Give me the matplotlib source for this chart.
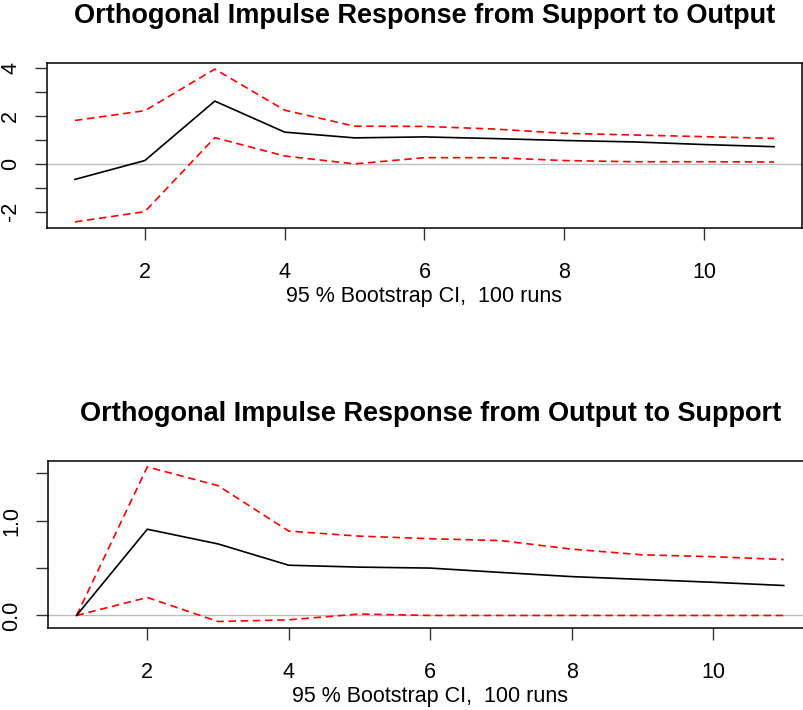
import numpy as np
import matplotlib.pyplot as plt

plt.rcParams['font.family'] = ['Liberation Sans', 'DejaVu Sans']

# horizonte del impulso
pasos = np.arange(1, 12)

# Respuesta de Support a Output
irf_so = [-0.65, 0.14, 2.63, 1.33, 1.09, 1.13, 1.06, 0.98, 0.92, 0.81, 0.72]
sup_so = [1.82, 2.23, 3.97, 2.25, 1.58, 1.57, 1.46, 1.28, 1.21, 1.14, 1.07]
inf_so = [-2.43, -2.0, 1.10, 0.33, 0.0, 0.26, 0.26, 0.14, 0.09, 0.09, 0.08]

# Respuesta de Output a Support
irf_os = [0.0, 0.91, 0.755, 0.53, 0.51, 0.50, 0.454, 0.41, 0.38, 0.35, 0.316]
sup_os = [0.0, 1.568, 1.37, 0.89, 0.837, 0.81, 0.79, 0.70, 0.64, 0.62, 0.59]
inf_os = [0.0, 0.19, -0.064, -0.046, 0.015, 0.0, 0.0, 0.0, 0.0, 0.0, 0.0]

titulos = ['Orthogonal Impulse Response from Support to Output',
           'Orthogonal Impulse Response from Output to Support']
etiqueta_x = '95 % Bootstrap CI,  100 runs'

fig = plt.figure(figsize=(8.04, 7.10), dpi=100)
ax1 = fig.add_axes([0.05846, 0.67887, 0.93905, 0.23239])
ax2 = fig.add_axes([0.06007, 0.11592, 0.94988, 0.23521])

paneles = [
    (ax1, irf_so, sup_so, inf_so, np.arange(-2, 5, 1), ['-2', '', '0', '', '2', '', '4']),
    (ax2, irf_os, sup_os, inf_os, [0.0, 0.5, 1.0, 1.5], ['0.0', '', '1.0', '']),
]

for ax, irf, sup, inf, yt, ytl in paneles:
    ax.axhline(0, color='#bebebe', lw=1.0, zorder=1)
    ax.plot(pasos, irf, color='black', lw=1.2, zorder=3)
    ax.plot(pasos, sup, color='red', lw=1.2, ls=(0, (4.5, 2.8)), zorder=2)
    ax.plot(pasos, inf, color='red', lw=1.2, ls=(0, (4.5, 2.8)), zorder=2)
    ax.margins(x=0.04, y=0.04)
    ax.set_xticks([2, 4, 6, 8, 10])
    ax.set_yticks(yt)
    ax.set_yticklabels(ytl, rotation=90, va='center')
    ax.tick_params(axis='both', direction='out', length=8.6, width=1.0,
                   labelsize=15.5, color='#333333')
    ax.tick_params(axis='x', pad=16)
    ax.tick_params(axis='y', pad=10)
    for s in ax.spines.values():
        s.set_linewidth(1.1)
    ax.set_xlabel(etiqueta_x, fontsize=15.5, labelpad=2)

for ax, t in zip([ax1, ax2], titulos):
    pos = ax.get_position()
    fig.text(pos.x0 + pos.width / 2, pos.y1 + 47 / 710, t, ha='center', va='center',
             fontsize=19.5, fontweight='bold')

fig.savefig('out.png', dpi=100)
